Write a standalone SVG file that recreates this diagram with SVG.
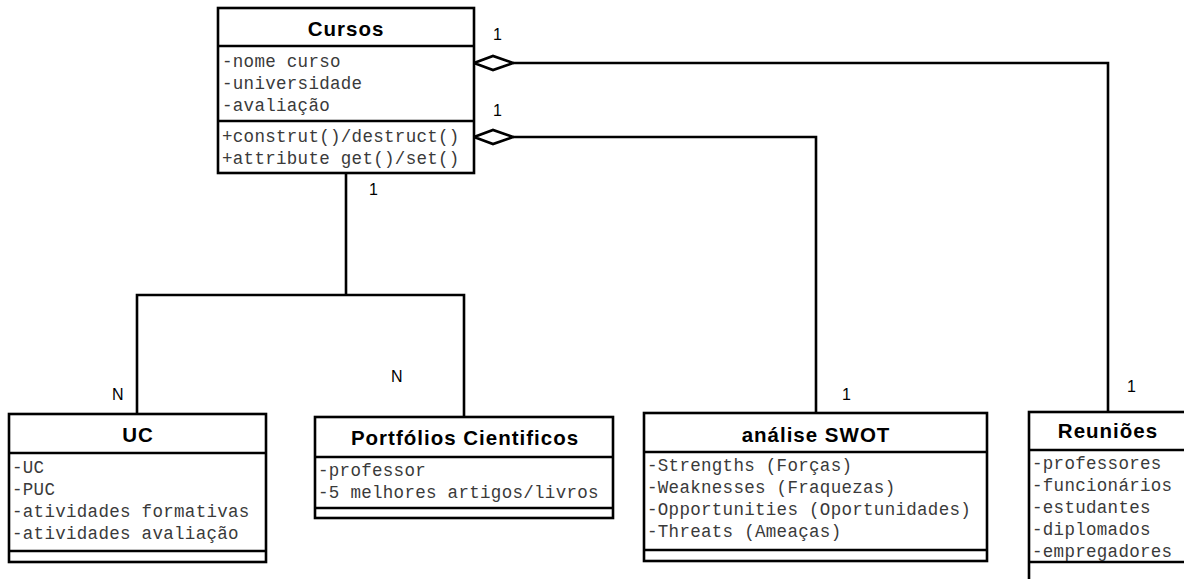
<svg xmlns="http://www.w3.org/2000/svg" width="1184" height="579" viewBox="0 0 1184 579">
<style>
.box{fill:#fff;stroke:#000;stroke-width:2.6}
.sep{stroke:#000;stroke-width:2.6}
.ttl{font-family:"Liberation Sans",Arial,sans-serif;font-weight:bold;font-size:20.5px;letter-spacing:1px;text-anchor:middle;fill:#000}
.att{font-family:"Liberation Mono","Courier New",monospace;font-size:17.5px;letter-spacing:0.3px;fill:#3a3a3a}
.lbl{font-family:"Liberation Sans",Arial,sans-serif;font-size:16px;fill:#000}
.con{fill:none;stroke:#000;stroke-width:2.6}
.dia{fill:#fff;stroke:#000;stroke-width:2.6}
</style>
<rect width="1184" height="579" fill="#fff"/>
<g id="connectors">
<polyline class="con" points="346,173 346,295"/>
<polyline class="con" points="137,414 137,295 464,295 464,417"/>
<polyline class="con" points="513,63 1108,63 1108,412"/>
<polyline class="con" points="513,137 816,137 816,413"/>
<polygon class="dia" points="474,63 493,56 513,63 493,70"/>
<polygon class="dia" points="474,137 493,130 513,137 493,144"/>
<text class="lbl" x="493" y="40">1</text>
<text class="lbl" x="493" y="116">1</text>
<text class="lbl" x="369" y="195">1</text>
<text class="lbl" x="112" y="400">N</text>
<text class="lbl" x="391" y="382">N</text>
<text class="lbl" x="842" y="400">1</text>
<text class="lbl" x="1127" y="392">1</text>
</g>
<g id="cursos">
<rect class="box" x="218" y="8" width="256" height="165"/>
<line class="sep" x1="218" y1="46" x2="474" y2="46"/>
<line class="sep" x1="218" y1="121" x2="474" y2="121"/>
<text class="ttl" x="346" y="36">Cursos</text>
<text class="att" x="222" y="67">-nome curso</text>
<text class="att" x="222" y="89">-universidade</text>
<text class="att" x="222" y="111">-avaliação</text>
<text class="att" x="222" y="142">+construt()/destruct()</text>
<text class="att" x="222" y="164">+attribute get()/set()</text>
</g>
<g id="uc">
<rect class="box" x="9" y="414" width="257" height="148"/>
<line class="sep" x1="9" y1="453" x2="266" y2="453"/>
<line class="sep" x1="9" y1="551" x2="266" y2="551"/>
<text class="ttl" x="138" y="442">UC</text>
<text class="att" x="12" y="473">-UC</text>
<text class="att" x="12" y="495">-PUC</text>
<text class="att" x="12" y="517">-atividades formativas</text>
<text class="att" x="12" y="539">-atividades avaliação</text>
</g>
<g id="portfolios">
<rect class="box" x="315" y="417" width="298" height="101"/>
<line class="sep" x1="315" y1="457" x2="613" y2="457"/>
<line class="sep" x1="315" y1="508" x2="613" y2="508"/>
<text class="ttl" x="465" y="445">Portfólios Cientificos</text>
<text class="att" x="318" y="476">-professor</text>
<text class="att" x="318" y="498">-5 melhores artigos/livros</text>
</g>
<g id="swot">
<rect class="box" x="644" y="413" width="343" height="148"/>
<line class="sep" x1="644" y1="452" x2="987" y2="452"/>
<line class="sep" x1="644" y1="550" x2="987" y2="550"/>
<text class="ttl" x="816" y="442">análise SWOT</text>
<text class="att" x="647" y="471">-Strengths (Forças)</text>
<text class="att" x="647" y="493">-Weaknesses (Fraquezas)</text>
<text class="att" x="647" y="515">-Opportunities (Oportunidades)</text>
<text class="att" x="647" y="537">-Threats (Ameaças)</text>
</g>
<g id="reunioes">
<rect class="box" x="1029" y="412" width="200" height="200"/>
<line class="sep" x1="1029" y1="450" x2="1229" y2="450"/>
<line class="sep" x1="1029" y1="562" x2="1229" y2="562"/>
<text class="ttl" x="1108" y="438">Reuniões</text>
<text class="att" x="1032" y="469">-professores</text>
<text class="att" x="1032" y="491">-funcionários</text>
<text class="att" x="1032" y="513">-estudantes</text>
<text class="att" x="1032" y="535">-diplomados</text>
<text class="att" x="1032" y="557">-empregadores</text>
</g>
</svg>
